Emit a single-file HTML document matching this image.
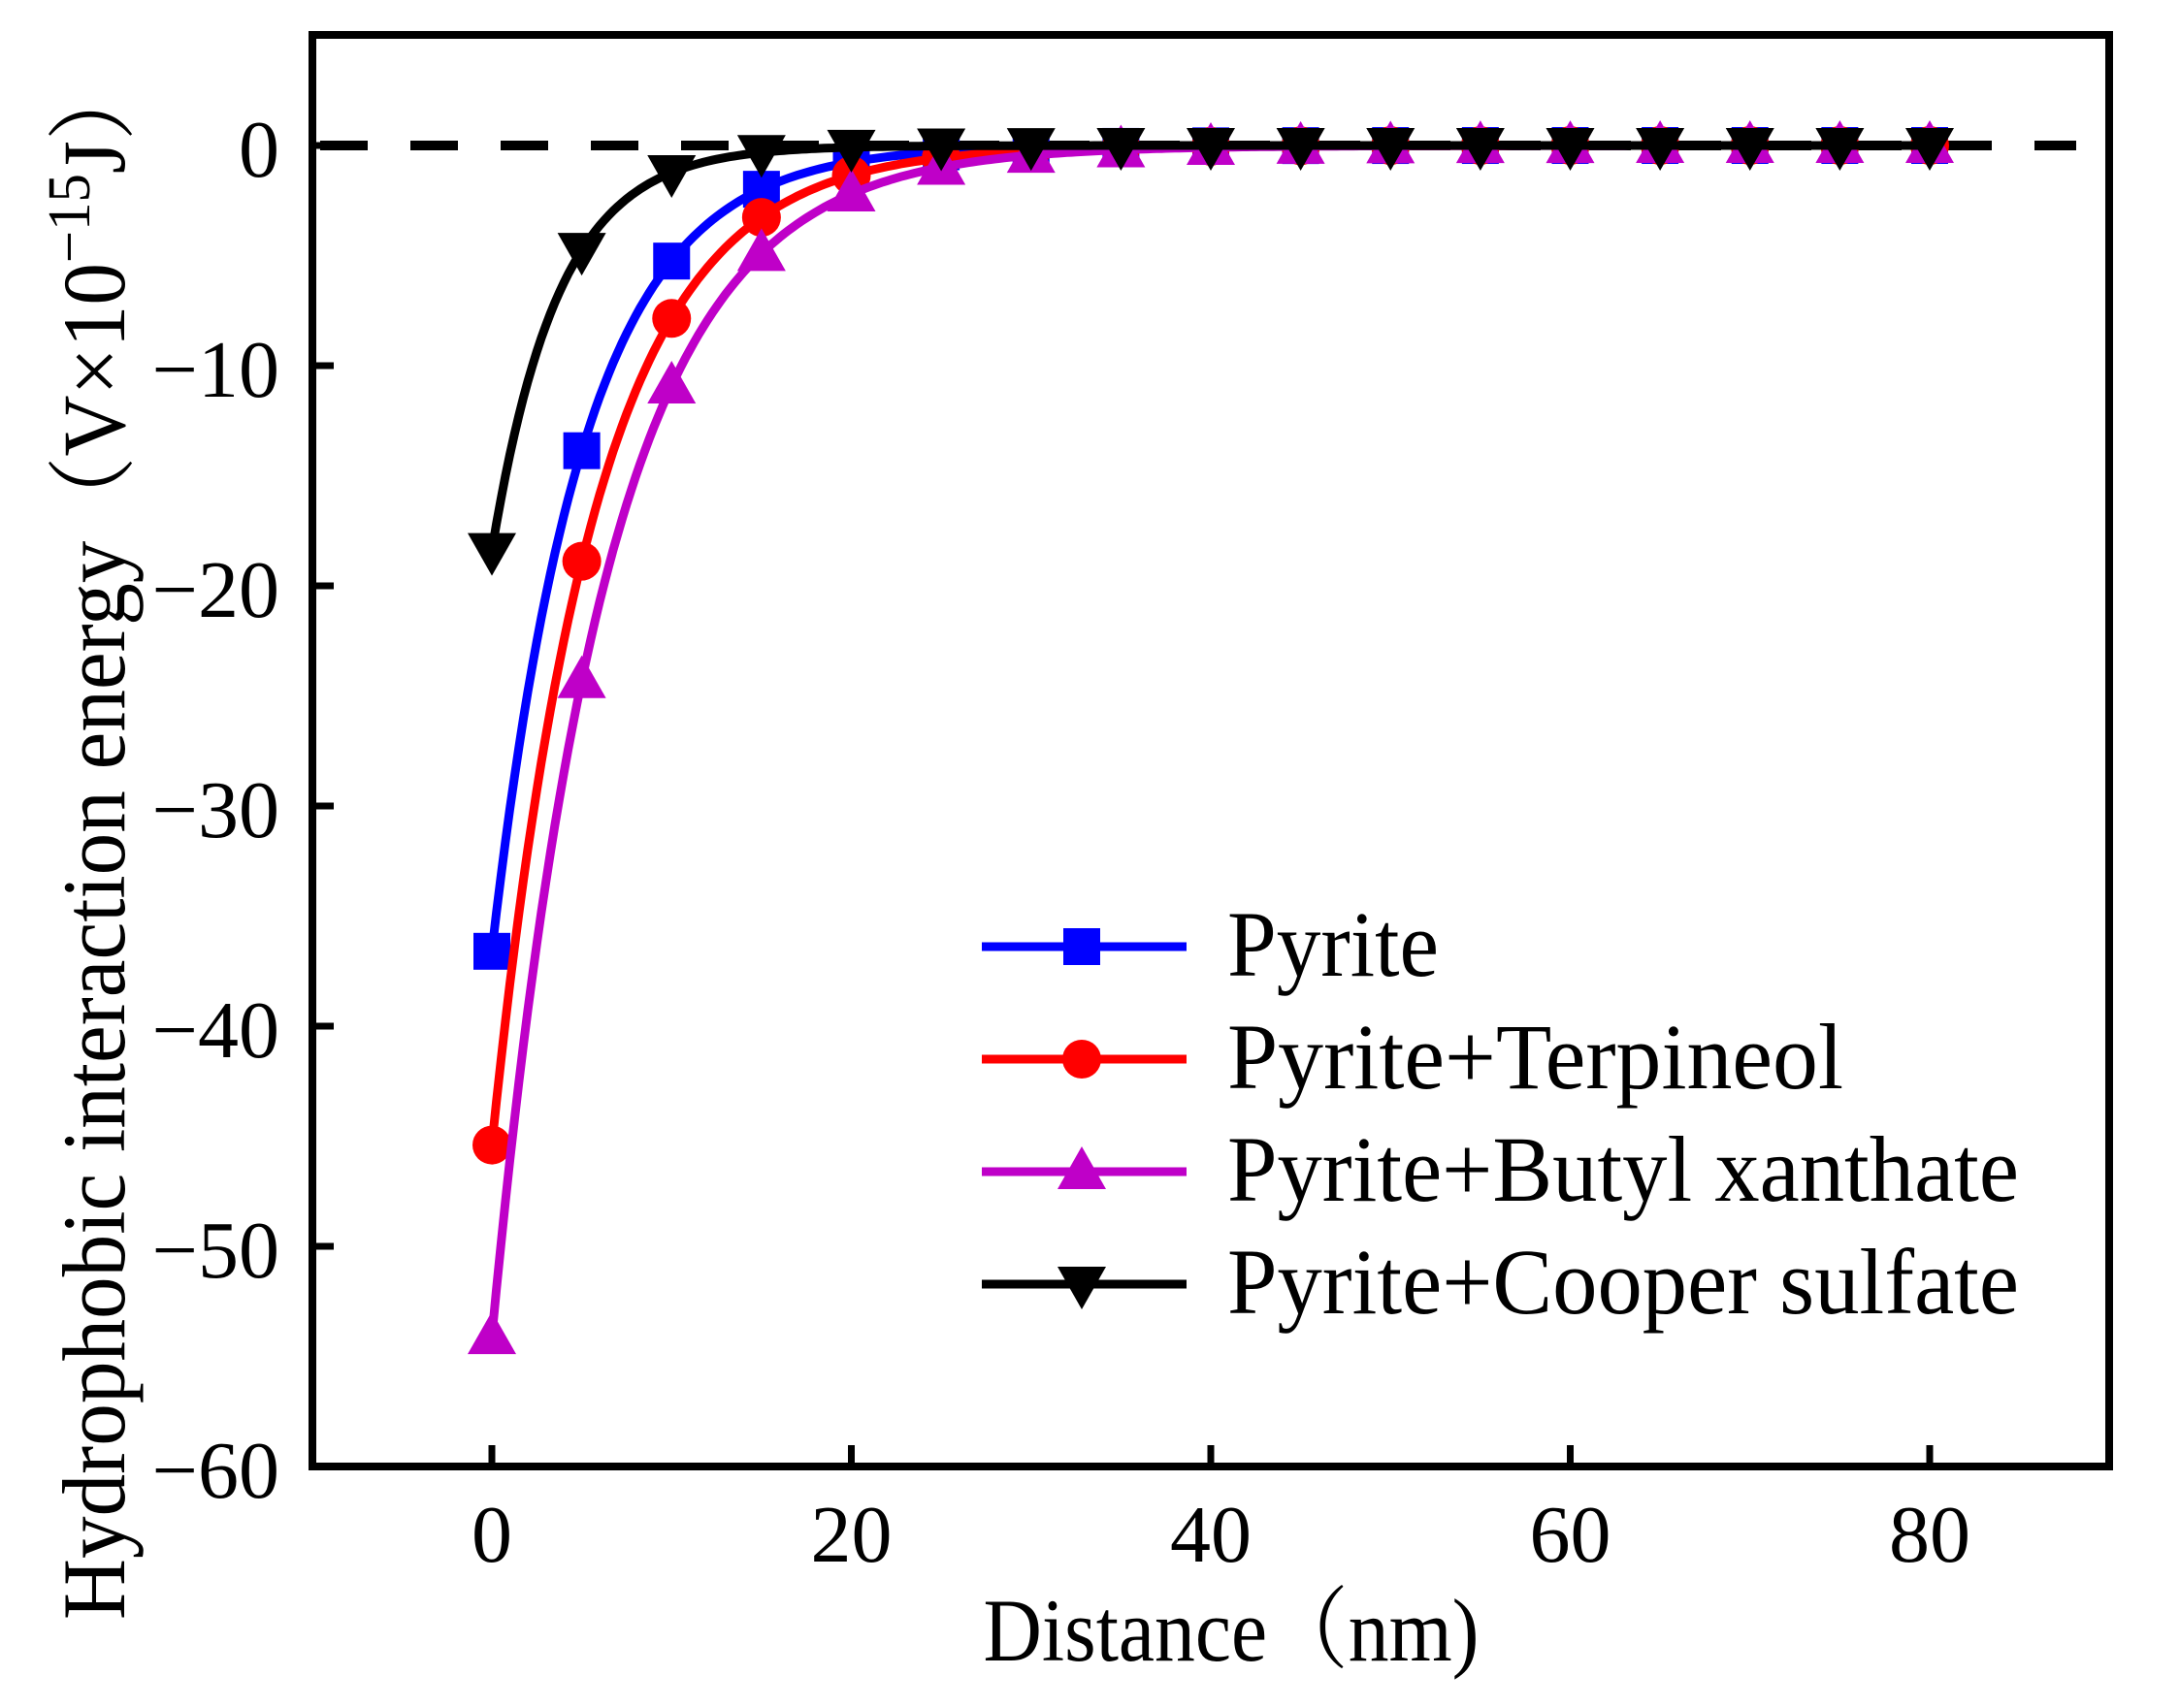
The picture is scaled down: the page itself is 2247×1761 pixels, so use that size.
<!DOCTYPE html>
<html><head><meta charset="utf-8"><style>
html,body{margin:0;padding:0;background:#fff}
svg{display:block}
text{font-family:"Liberation Serif","Noto Serif CJK SC",serif;fill:#000}
</style></head><body>
<svg id="s" width="2247" height="1761" xmlns="http://www.w3.org/2000/svg">
<rect width="2247" height="1761" fill="#fff"/>
<line x1="330" y1="150" x2="2140" y2="150" stroke="#000" stroke-width="10" stroke-dasharray="49 44"/>
<g id="plot"></g>
<rect x="322" y="36" width="1852" height="1476" fill="none" stroke="#000" stroke-width="8"/>
<g id="ticks" stroke="#000" stroke-width="7"></g>
<g id="labels" font-size="84"></g>
<text x="1269" y="1712" font-size="92" text-anchor="middle" textLength="511" lengthAdjust="spacingAndGlyphs">Distance（nm)</text>
<text transform="translate(128,1670) rotate(-90)" font-size="92" textLength="1612" lengthAdjust="spacingAndGlyphs">Hydrophobic interaction energy（V×10<tspan font-size="62" dy="-36">−15</tspan><tspan dy="36">J）</tspan></text>
<g id="legend"></g>
</svg>
<script>
const NS="http://www.w3.org/2000/svg";
function el(t,a,p){const e=document.createElementNS(NS,t);for(const k in a)e.setAttribute(k,a[k]);p.appendChild(e);return e;}
const X=x=>507+x*18.525, Y=v=>150-v*22.7;
const plot=document.getElementById('plot');
const series=[
 {c:'#0000ff',a:-36.6,l:5.15,m:'sq'},
 {c:'#ff0000',a:-45.4,l:5.7,m:'ci'},
 {c:'#bf00c8',a:-54.1,l:6.25,m:'tu'},
 {c:'#000000',a:-18.4,l:3.7,m:'td'}];
function marker(m,cx,cy,c,p){
 if(m==='sq')el('rect',{x:cx-19,y:cy-19,width:38,height:38,fill:c},p);
 else if(m==='ci')el('circle',{cx,cy,r:20,fill:c},p);
 else if(m==='tu')el('polygon',{points:`${cx},${cy-26} ${cx-25},${cy+18} ${cx+25},${cy+18}`,fill:c},p);
 else el('polygon',{points:`${cx},${cy+26} ${cx-25},${cy-18} ${cx+25},${cy-18}`,fill:c},p);
}
series.forEach(s=>{
 let d='';
 for(let x=0;x<=80;x+=0.25){const v=s.a*Math.exp(-x/s.l);d+=(x?'L':'M')+X(x).toFixed(1)+','+Y(v).toFixed(1);}
 el('path',{d,fill:'none',stroke:s.c,'stroke-width':9},plot);
 for(let x=0;x<=80;x+=5){marker(s.m,X(x),Y(s.a*Math.exp(-x/s.l)),s.c,plot);}
});
const tk=document.getElementById('ticks'),lb=document.getElementById('labels');
for(let v=0;v>=-60;v-=10){
 el('line',{x1:322,y1:Y(v),x2:344,y2:Y(v)},tk);
 const t=el('text',{x:288,y:Y(v)+32,'text-anchor':'end'},lb);t.textContent=v===0?'0':'−'+(-v);
}
for(let x=0;x<=80;x+=20){
 el('line',{x1:X(x),y1:1512,x2:X(x),y2:1490},tk);
 const t=el('text',{x:X(x),y:1610,'text-anchor':'middle'},lb);t.textContent=x;
}
const lg=document.getElementById('legend');
const names=['Pyrite','Pyrite+Terpineol','Pyrite+Butyl xanthate','Pyrite+Cooper sulfate'];
const lens=[218,635,816,816];
series.forEach((s,i)=>{
 const y=976+i*116;
 el('line',{x1:1012,y1:y,x2:1223,y2:y,stroke:s.c,'stroke-width':9},lg);
 marker(s.m,1115,y,s.c,lg);
 const t=el('text',{x:1265,y:y+30,'font-size':96,textLength:lens[i],lengthAdjust:'spacingAndGlyphs'},lg);t.textContent=names[i];
});
</script>
</body></html>
